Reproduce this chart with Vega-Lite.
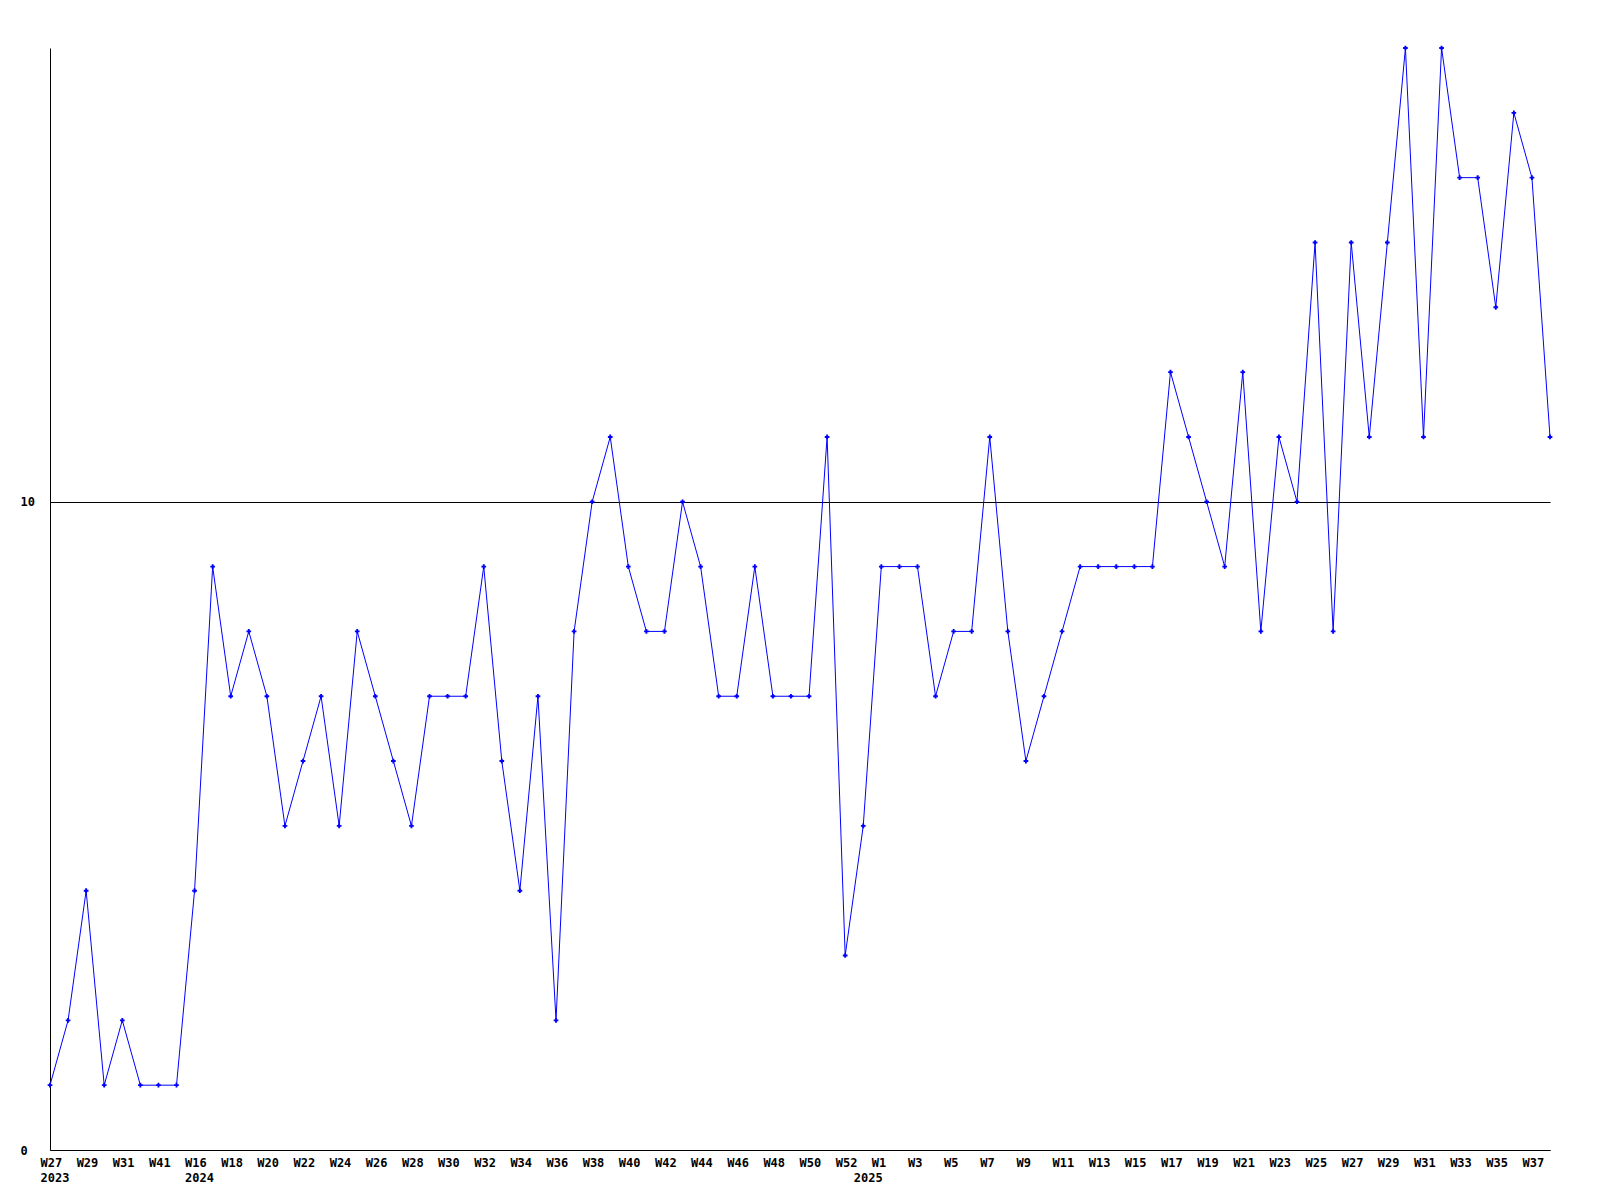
{
  "$schema": "https://vega.github.io/schema/vega-lite/v6.json",
  "autosize": {"type": "none"},
  "padding": {"left": 50, "top": 48, "right": 50, "bottom": 50},
  "width": 1500,
  "height": 1102,
  "background": "white",
  "config": {"view": {"stroke": null}},
  "data": {"values": [
    {"k": "2023-W27", "v": 1}, {"k": "2023-W28", "v": 2}, {"k": "2023-W29", "v": 4}, {"k": "2023-W30", "v": 1},
    {"k": "2023-W31", "v": 2}, {"k": "2023-W32", "v": 1}, {"k": "2023-W41", "v": 1}, {"k": "2023-W42", "v": 1},
    {"k": "2024-W16", "v": 4}, {"k": "2024-W17", "v": 9}, {"k": "2024-W18", "v": 7}, {"k": "2024-W19", "v": 8},
    {"k": "2024-W20", "v": 7}, {"k": "2024-W21", "v": 5}, {"k": "2024-W22", "v": 6}, {"k": "2024-W23", "v": 7},
    {"k": "2024-W24", "v": 5}, {"k": "2024-W25", "v": 8}, {"k": "2024-W26", "v": 7}, {"k": "2024-W27", "v": 6},
    {"k": "2024-W28", "v": 5}, {"k": "2024-W29", "v": 7}, {"k": "2024-W30", "v": 7}, {"k": "2024-W31", "v": 7},
    {"k": "2024-W32", "v": 9}, {"k": "2024-W33", "v": 6}, {"k": "2024-W34", "v": 4}, {"k": "2024-W35", "v": 7},
    {"k": "2024-W36", "v": 2}, {"k": "2024-W37", "v": 8}, {"k": "2024-W38", "v": 10}, {"k": "2024-W39", "v": 11},
    {"k": "2024-W40", "v": 9}, {"k": "2024-W41", "v": 8}, {"k": "2024-W42", "v": 8}, {"k": "2024-W43", "v": 10},
    {"k": "2024-W44", "v": 9}, {"k": "2024-W45", "v": 7}, {"k": "2024-W46", "v": 7}, {"k": "2024-W47", "v": 9},
    {"k": "2024-W48", "v": 7}, {"k": "2024-W49", "v": 7}, {"k": "2024-W50", "v": 7}, {"k": "2024-W51", "v": 11},
    {"k": "2024-W52", "v": 3},
    {"k": "2025-W0", "v": 5}, {"k": "2025-W1", "v": 9}, {"k": "2025-W2", "v": 9}, {"k": "2025-W3", "v": 9},
    {"k": "2025-W4", "v": 7}, {"k": "2025-W5", "v": 8}, {"k": "2025-W6", "v": 8}, {"k": "2025-W7", "v": 11},
    {"k": "2025-W8", "v": 8}, {"k": "2025-W9", "v": 6}, {"k": "2025-W10", "v": 7}, {"k": "2025-W11", "v": 8},
    {"k": "2025-W12", "v": 9}, {"k": "2025-W13", "v": 9}, {"k": "2025-W14", "v": 9}, {"k": "2025-W15", "v": 9},
    {"k": "2025-W16", "v": 9}, {"k": "2025-W17", "v": 12}, {"k": "2025-W18", "v": 11}, {"k": "2025-W19", "v": 10},
    {"k": "2025-W20", "v": 9}, {"k": "2025-W21", "v": 12}, {"k": "2025-W22", "v": 8}, {"k": "2025-W23", "v": 11},
    {"k": "2025-W24", "v": 10}, {"k": "2025-W25", "v": 14}, {"k": "2025-W26", "v": 8}, {"k": "2025-W27", "v": 14},
    {"k": "2025-W28", "v": 11}, {"k": "2025-W29", "v": 14}, {"k": "2025-W30", "v": 17}, {"k": "2025-W31", "v": 11},
    {"k": "2025-W32", "v": 17}, {"k": "2025-W33", "v": 15}, {"k": "2025-W34", "v": 15}, {"k": "2025-W35", "v": 13},
    {"k": "2025-W36", "v": 16}, {"k": "2025-W37", "v": 15}, {"k": "2025-W38", "v": 11}
  ]},
  "encoding": {
    "x": {
      "field": "k", "type": "ordinal", "sort": null,
      "scale": {"type": "point", "padding": 0},
      "axis": {
        "title": null,
        "values": ["2023-W27", "2023-W29", "2023-W31", "2023-W41", "2024-W16", "2024-W18", "2024-W20", "2024-W22", "2024-W24", "2024-W26", "2024-W28", "2024-W30", "2024-W32", "2024-W34", "2024-W36", "2024-W38", "2024-W40", "2024-W42", "2024-W44", "2024-W46", "2024-W48", "2024-W50", "2024-W52", "2025-W0", "2025-W1", "2025-W3", "2025-W5", "2025-W7", "2025-W9", "2025-W11", "2025-W13", "2025-W15", "2025-W17", "2025-W19", "2025-W21", "2025-W23", "2025-W25", "2025-W27", "2025-W29", "2025-W31", "2025-W33", "2025-W35", "2025-W37"],
        "labelExpr": "split(datum.value, '-')[1] == 'W0' ? ['', split(datum.value, '-')[0]] : ((datum.value == '2023-W27' || datum.value == '2024-W16') ? [split(datum.value, '-')[1], split(datum.value, '-')[0]] : split(datum.value, '-')[1])",
        "ticks": false,
        "grid": false,
        "domainColor": "black",
        "labelAngle": 0,
        "labelAlign": "left",
        "labelOffset": -10,
        "labelBaseline": "top",
        "labelPadding": 7,
        "labelFont": "DejaVu Sans Mono",
        "labelFontWeight": "bold",
        "labelFontSize": 12,
        "labelColor": "black",
        "labelLineHeight": 15,
        "labelOverlap": false,
        "labelBound": false,
        "labelFlush": false
      }
    },
    "y": {
      "field": "v", "type": "quantitative",
      "scale": {"domain": [0, 17], "nice": false, "zero": true},
      "axis": {
        "title": null,
        "values": [0, 10],
        "grid": true,
        "gridColor": "black",
        "gridOpacity": 1,
        "gridWidth": 1,
        "ticks": false,
        "tickSize": 0,
        "domainColor": "black",
        "labelAlign": "left",
        "labelPadding": 30,
        "labelFont": "DejaVu Sans Mono",
        "labelFontWeight": "bold",
        "labelFontSize": 12,
        "labelColor": "black",
        "labelBound": false,
        "labelFlush": false,
        "labelOverlap": false
      }
    }
  },
  "layer": [
    {"mark": {"type": "line", "color": "#0000ff", "strokeWidth": 1}},
    {"mark": {"type": "point", "shape": "cross", "filled": true, "size": 22, "color": "#0000ff", "opacity": 1}}
  ]
}
